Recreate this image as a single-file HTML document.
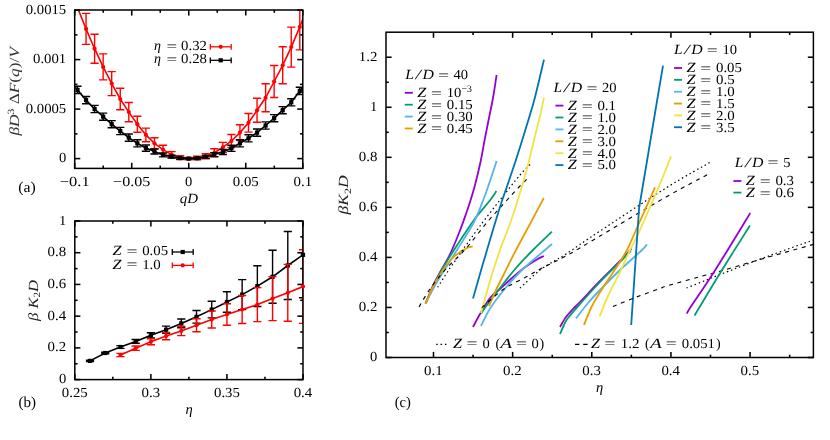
<!DOCTYPE html>
<html><head><meta charset="utf-8"><title>figure</title>
<style>html,body{margin:0;padding:0;background:#fff;}body{width:830px;height:440px;overflow:hidden;font-family:"Liberation Serif",serif;}svg text{font-family:"Liberation Serif",serif;}</style></head>
<body>
<svg width="830" height="440" viewBox="0 0 830 440" font-family="'Liberation Serif', serif" text-rendering="geometricPrecision" style="display:block;will-change:transform;opacity:0.999">
<rect x="0" y="0" width="830" height="440" fill="#ffffff"/>
<clipPath id="ca"><rect x="74.7" y="10.0" width="228.1" height="158.4"/></clipPath>
<line x1="74.7" y1="168.4" x2="74.7" y2="162.8" stroke="#000000" stroke-width="1.55" />
<line x1="74.7" y1="10" x2="74.7" y2="15.6" stroke="#000000" stroke-width="1.55" />
<line x1="103.21" y1="168.4" x2="103.21" y2="165.6" stroke="#000000" stroke-width="1.55" />
<line x1="103.21" y1="10" x2="103.21" y2="12.8" stroke="#000000" stroke-width="1.55" />
<line x1="131.73" y1="168.4" x2="131.73" y2="162.8" stroke="#000000" stroke-width="1.55" />
<line x1="131.73" y1="10" x2="131.73" y2="15.6" stroke="#000000" stroke-width="1.55" />
<line x1="160.24" y1="168.4" x2="160.24" y2="165.6" stroke="#000000" stroke-width="1.55" />
<line x1="160.24" y1="10" x2="160.24" y2="12.8" stroke="#000000" stroke-width="1.55" />
<line x1="188.75" y1="168.4" x2="188.75" y2="162.8" stroke="#000000" stroke-width="1.55" />
<line x1="188.75" y1="10" x2="188.75" y2="15.6" stroke="#000000" stroke-width="1.55" />
<line x1="217.26" y1="168.4" x2="217.26" y2="165.6" stroke="#000000" stroke-width="1.55" />
<line x1="217.26" y1="10" x2="217.26" y2="12.8" stroke="#000000" stroke-width="1.55" />
<line x1="245.78" y1="168.4" x2="245.78" y2="162.8" stroke="#000000" stroke-width="1.55" />
<line x1="245.78" y1="10" x2="245.78" y2="15.6" stroke="#000000" stroke-width="1.55" />
<line x1="274.29" y1="168.4" x2="274.29" y2="165.6" stroke="#000000" stroke-width="1.55" />
<line x1="274.29" y1="10" x2="274.29" y2="12.8" stroke="#000000" stroke-width="1.55" />
<line x1="302.8" y1="168.4" x2="302.8" y2="162.8" stroke="#000000" stroke-width="1.55" />
<line x1="302.8" y1="10" x2="302.8" y2="15.6" stroke="#000000" stroke-width="1.55" />
<line x1="74.7" y1="158.6" x2="80.3" y2="158.6" stroke="#000000" stroke-width="1.55" />
<line x1="302.8" y1="158.6" x2="297.2" y2="158.6" stroke="#000000" stroke-width="1.55" />
<line x1="74.7" y1="133.85" x2="77.5" y2="133.85" stroke="#000000" stroke-width="1.55" />
<line x1="302.8" y1="133.85" x2="300" y2="133.85" stroke="#000000" stroke-width="1.55" />
<line x1="74.7" y1="109.1" x2="80.3" y2="109.1" stroke="#000000" stroke-width="1.55" />
<line x1="302.8" y1="109.1" x2="297.2" y2="109.1" stroke="#000000" stroke-width="1.55" />
<line x1="74.7" y1="84.35" x2="77.5" y2="84.35" stroke="#000000" stroke-width="1.55" />
<line x1="302.8" y1="84.35" x2="300" y2="84.35" stroke="#000000" stroke-width="1.55" />
<line x1="74.7" y1="59.6" x2="80.3" y2="59.6" stroke="#000000" stroke-width="1.55" />
<line x1="302.8" y1="59.6" x2="297.2" y2="59.6" stroke="#000000" stroke-width="1.55" />
<line x1="74.7" y1="34.85" x2="77.5" y2="34.85" stroke="#000000" stroke-width="1.55" />
<line x1="302.8" y1="34.85" x2="300" y2="34.85" stroke="#000000" stroke-width="1.55" />
<line x1="74.7" y1="10.1" x2="80.3" y2="10.1" stroke="#000000" stroke-width="1.55" />
<line x1="302.8" y1="10.1" x2="297.2" y2="10.1" stroke="#000000" stroke-width="1.55" />
<g clip-path="url(#ca)">
<polyline points="68.95,-12.4 77.5,7.6 86.05,28.9 94.6,48.7 103.15,66.9 111.7,83.6 120.25,99 128.8,112.1 137.35,124.2 145.9,134.9 154.45,143.3 163,149.6 171.55,154.6 180.1,157.6 188.65,158.6 197.2,158.1 205.75,156.2 214.3,152.8 222.85,147.4 231.4,141 239.95,132.6 248.5,122.8 257.05,110.3 265.6,97.8 274.15,81.5 282.7,65.3 291.25,47.1 299.8,26.9 308.35,5.6" fill="none" stroke="#ff0000" stroke-width="1.6"/>
<line x1="86.05" y1="13.4" x2="86.05" y2="44.4" stroke="#ff0000" stroke-width="1.4" />
<line x1="81.95" y1="13.4" x2="90.15" y2="13.4" stroke="#ff0000" stroke-width="1.4" />
<line x1="81.95" y1="44.4" x2="90.15" y2="44.4" stroke="#ff0000" stroke-width="1.4" />
<circle cx="86.05" cy="28.9" r="2.1" fill="#ff0000"/>
<line x1="94.6" y1="34.2" x2="94.6" y2="63.2" stroke="#ff0000" stroke-width="1.4" />
<line x1="90.5" y1="34.2" x2="98.7" y2="34.2" stroke="#ff0000" stroke-width="1.4" />
<line x1="90.5" y1="63.2" x2="98.7" y2="63.2" stroke="#ff0000" stroke-width="1.4" />
<circle cx="94.6" cy="48.7" r="2.1" fill="#ff0000"/>
<line x1="103.15" y1="53.9" x2="103.15" y2="79.9" stroke="#ff0000" stroke-width="1.4" />
<line x1="99.05" y1="53.9" x2="107.25" y2="53.9" stroke="#ff0000" stroke-width="1.4" />
<line x1="99.05" y1="79.9" x2="107.25" y2="79.9" stroke="#ff0000" stroke-width="1.4" />
<circle cx="103.15" cy="66.9" r="2.1" fill="#ff0000"/>
<line x1="111.7" y1="71.6" x2="111.7" y2="95.6" stroke="#ff0000" stroke-width="1.4" />
<line x1="107.6" y1="71.6" x2="115.8" y2="71.6" stroke="#ff0000" stroke-width="1.4" />
<line x1="107.6" y1="95.6" x2="115.8" y2="95.6" stroke="#ff0000" stroke-width="1.4" />
<circle cx="111.7" cy="83.6" r="2.1" fill="#ff0000"/>
<line x1="120.25" y1="88.2" x2="120.25" y2="109.8" stroke="#ff0000" stroke-width="1.4" />
<line x1="116.15" y1="88.2" x2="124.35" y2="88.2" stroke="#ff0000" stroke-width="1.4" />
<line x1="116.15" y1="109.8" x2="124.35" y2="109.8" stroke="#ff0000" stroke-width="1.4" />
<circle cx="120.25" cy="99" r="2.1" fill="#ff0000"/>
<line x1="128.8" y1="102.5" x2="128.8" y2="121.7" stroke="#ff0000" stroke-width="1.4" />
<line x1="124.7" y1="102.5" x2="132.9" y2="102.5" stroke="#ff0000" stroke-width="1.4" />
<line x1="124.7" y1="121.7" x2="132.9" y2="121.7" stroke="#ff0000" stroke-width="1.4" />
<circle cx="128.8" cy="112.1" r="2.1" fill="#ff0000"/>
<line x1="137.35" y1="116.2" x2="137.35" y2="132.2" stroke="#ff0000" stroke-width="1.4" />
<line x1="133.25" y1="116.2" x2="141.45" y2="116.2" stroke="#ff0000" stroke-width="1.4" />
<line x1="133.25" y1="132.2" x2="141.45" y2="132.2" stroke="#ff0000" stroke-width="1.4" />
<circle cx="137.35" cy="124.2" r="2.1" fill="#ff0000"/>
<line x1="145.9" y1="128.1" x2="145.9" y2="141.7" stroke="#ff0000" stroke-width="1.4" />
<line x1="141.8" y1="128.1" x2="150" y2="128.1" stroke="#ff0000" stroke-width="1.4" />
<line x1="141.8" y1="141.7" x2="150" y2="141.7" stroke="#ff0000" stroke-width="1.4" />
<circle cx="145.9" cy="134.9" r="2.1" fill="#ff0000"/>
<line x1="154.45" y1="137.8" x2="154.45" y2="148.8" stroke="#ff0000" stroke-width="1.4" />
<line x1="150.35" y1="137.8" x2="158.55" y2="137.8" stroke="#ff0000" stroke-width="1.4" />
<line x1="150.35" y1="148.8" x2="158.55" y2="148.8" stroke="#ff0000" stroke-width="1.4" />
<circle cx="154.45" cy="143.3" r="2.1" fill="#ff0000"/>
<line x1="163" y1="145.3" x2="163" y2="153.9" stroke="#ff0000" stroke-width="1.4" />
<line x1="158.9" y1="145.3" x2="167.1" y2="145.3" stroke="#ff0000" stroke-width="1.4" />
<line x1="158.9" y1="153.9" x2="167.1" y2="153.9" stroke="#ff0000" stroke-width="1.4" />
<circle cx="163" cy="149.6" r="2.1" fill="#ff0000"/>
<line x1="171.55" y1="151.6" x2="171.55" y2="157.6" stroke="#ff0000" stroke-width="1.4" />
<line x1="167.45" y1="151.6" x2="175.65" y2="151.6" stroke="#ff0000" stroke-width="1.4" />
<line x1="167.45" y1="157.6" x2="175.65" y2="157.6" stroke="#ff0000" stroke-width="1.4" />
<circle cx="171.55" cy="154.6" r="2.1" fill="#ff0000"/>
<line x1="180.1" y1="155.6" x2="180.1" y2="159.6" stroke="#ff0000" stroke-width="1.4" />
<line x1="176" y1="155.6" x2="184.2" y2="155.6" stroke="#ff0000" stroke-width="1.4" />
<line x1="176" y1="159.6" x2="184.2" y2="159.6" stroke="#ff0000" stroke-width="1.4" />
<circle cx="180.1" cy="157.6" r="2.1" fill="#ff0000"/>
<line x1="188.65" y1="157.4" x2="188.65" y2="159.8" stroke="#ff0000" stroke-width="1.4" />
<line x1="184.55" y1="157.4" x2="192.75" y2="157.4" stroke="#ff0000" stroke-width="1.4" />
<line x1="184.55" y1="159.8" x2="192.75" y2="159.8" stroke="#ff0000" stroke-width="1.4" />
<circle cx="188.65" cy="158.6" r="2.1" fill="#ff0000"/>
<line x1="197.2" y1="156.3" x2="197.2" y2="159.9" stroke="#ff0000" stroke-width="1.4" />
<line x1="193.1" y1="156.3" x2="201.3" y2="156.3" stroke="#ff0000" stroke-width="1.4" />
<line x1="193.1" y1="159.9" x2="201.3" y2="159.9" stroke="#ff0000" stroke-width="1.4" />
<circle cx="197.2" cy="158.1" r="2.1" fill="#ff0000"/>
<line x1="205.75" y1="153.7" x2="205.75" y2="158.7" stroke="#ff0000" stroke-width="1.4" />
<line x1="201.65" y1="153.7" x2="209.85" y2="153.7" stroke="#ff0000" stroke-width="1.4" />
<line x1="201.65" y1="158.7" x2="209.85" y2="158.7" stroke="#ff0000" stroke-width="1.4" />
<circle cx="205.75" cy="156.2" r="2.1" fill="#ff0000"/>
<line x1="214.3" y1="148.8" x2="214.3" y2="156.8" stroke="#ff0000" stroke-width="1.4" />
<line x1="210.2" y1="148.8" x2="218.4" y2="148.8" stroke="#ff0000" stroke-width="1.4" />
<line x1="210.2" y1="156.8" x2="218.4" y2="156.8" stroke="#ff0000" stroke-width="1.4" />
<circle cx="214.3" cy="152.8" r="2.1" fill="#ff0000"/>
<line x1="222.85" y1="142.4" x2="222.85" y2="152.4" stroke="#ff0000" stroke-width="1.4" />
<line x1="218.75" y1="142.4" x2="226.95" y2="142.4" stroke="#ff0000" stroke-width="1.4" />
<line x1="218.75" y1="152.4" x2="226.95" y2="152.4" stroke="#ff0000" stroke-width="1.4" />
<circle cx="222.85" cy="147.4" r="2.1" fill="#ff0000"/>
<line x1="231.4" y1="134.5" x2="231.4" y2="147.5" stroke="#ff0000" stroke-width="1.4" />
<line x1="227.3" y1="134.5" x2="235.5" y2="134.5" stroke="#ff0000" stroke-width="1.4" />
<line x1="227.3" y1="147.5" x2="235.5" y2="147.5" stroke="#ff0000" stroke-width="1.4" />
<circle cx="231.4" cy="141" r="2.1" fill="#ff0000"/>
<line x1="239.95" y1="124.8" x2="239.95" y2="140.4" stroke="#ff0000" stroke-width="1.4" />
<line x1="235.85" y1="124.8" x2="244.05" y2="124.8" stroke="#ff0000" stroke-width="1.4" />
<line x1="235.85" y1="140.4" x2="244.05" y2="140.4" stroke="#ff0000" stroke-width="1.4" />
<circle cx="239.95" cy="132.6" r="2.1" fill="#ff0000"/>
<line x1="248.5" y1="113.5" x2="248.5" y2="132.1" stroke="#ff0000" stroke-width="1.4" />
<line x1="244.4" y1="113.5" x2="252.6" y2="113.5" stroke="#ff0000" stroke-width="1.4" />
<line x1="244.4" y1="132.1" x2="252.6" y2="132.1" stroke="#ff0000" stroke-width="1.4" />
<circle cx="248.5" cy="122.8" r="2.1" fill="#ff0000"/>
<line x1="257.05" y1="98.3" x2="257.05" y2="122.3" stroke="#ff0000" stroke-width="1.4" />
<line x1="252.95" y1="98.3" x2="261.15" y2="98.3" stroke="#ff0000" stroke-width="1.4" />
<line x1="252.95" y1="122.3" x2="261.15" y2="122.3" stroke="#ff0000" stroke-width="1.4" />
<circle cx="257.05" cy="110.3" r="2.1" fill="#ff0000"/>
<line x1="265.6" y1="83.8" x2="265.6" y2="111.8" stroke="#ff0000" stroke-width="1.4" />
<line x1="261.5" y1="83.8" x2="269.7" y2="83.8" stroke="#ff0000" stroke-width="1.4" />
<line x1="261.5" y1="111.8" x2="269.7" y2="111.8" stroke="#ff0000" stroke-width="1.4" />
<circle cx="265.6" cy="97.8" r="2.1" fill="#ff0000"/>
<line x1="274.15" y1="65.5" x2="274.15" y2="97.5" stroke="#ff0000" stroke-width="1.4" />
<line x1="270.05" y1="65.5" x2="278.25" y2="65.5" stroke="#ff0000" stroke-width="1.4" />
<line x1="270.05" y1="97.5" x2="278.25" y2="97.5" stroke="#ff0000" stroke-width="1.4" />
<circle cx="274.15" cy="81.5" r="2.1" fill="#ff0000"/>
<line x1="282.7" y1="46.8" x2="282.7" y2="83.8" stroke="#ff0000" stroke-width="1.4" />
<line x1="278.6" y1="46.8" x2="286.8" y2="46.8" stroke="#ff0000" stroke-width="1.4" />
<line x1="278.6" y1="83.8" x2="286.8" y2="83.8" stroke="#ff0000" stroke-width="1.4" />
<circle cx="282.7" cy="65.3" r="2.1" fill="#ff0000"/>
<line x1="291.25" y1="27.1" x2="291.25" y2="67.1" stroke="#ff0000" stroke-width="1.4" />
<line x1="287.15" y1="27.1" x2="295.35" y2="27.1" stroke="#ff0000" stroke-width="1.4" />
<line x1="287.15" y1="67.1" x2="295.35" y2="67.1" stroke="#ff0000" stroke-width="1.4" />
<circle cx="291.25" cy="47.1" r="2.1" fill="#ff0000"/>
<line x1="299.8" y1="10" x2="299.8" y2="49.9" stroke="#ff0000" stroke-width="1.4" />
<line x1="295.7" y1="49.9" x2="303.9" y2="49.9" stroke="#ff0000" stroke-width="1.4" />
<circle cx="299.8" cy="26.9" r="2.1" fill="#ff0000"/>
<polyline points="68.95,79.6 77.5,89.9 86.05,100.1 94.6,109 103.15,116.7 111.7,124.2 120.25,131 128.8,137.6 137.35,143.3 145.9,148.1 154.45,151.5 163,154.9 171.55,156.7 180.1,158.1 188.65,158.6 197.2,158.2 205.75,156.9 214.3,154.6 222.85,151.9 231.4,148.3 239.95,143.3 248.5,138.3 257.05,132.6 265.6,125.5 274.15,118.2 282.7,110.2 291.25,102.3 299.8,90.9 308.35,80.6" fill="none" stroke="#000000" stroke-width="1.6"/>
<line x1="77.5" y1="86.3" x2="77.5" y2="93.5" stroke="#000000" stroke-width="1.4" />
<line x1="73.4" y1="86.3" x2="81.6" y2="86.3" stroke="#000000" stroke-width="1.4" />
<line x1="73.4" y1="93.5" x2="81.6" y2="93.5" stroke="#000000" stroke-width="1.4" />
<rect x="75.4" y="87.8" width="4.2" height="4.2" fill="#000000"/>
<line x1="86.05" y1="96.5" x2="86.05" y2="103.7" stroke="#000000" stroke-width="1.4" />
<line x1="81.95" y1="96.5" x2="90.15" y2="96.5" stroke="#000000" stroke-width="1.4" />
<line x1="81.95" y1="103.7" x2="90.15" y2="103.7" stroke="#000000" stroke-width="1.4" />
<rect x="83.95" y="98" width="4.2" height="4.2" fill="#000000"/>
<line x1="94.6" y1="105.4" x2="94.6" y2="112.6" stroke="#000000" stroke-width="1.4" />
<line x1="90.5" y1="105.4" x2="98.7" y2="105.4" stroke="#000000" stroke-width="1.4" />
<line x1="90.5" y1="112.6" x2="98.7" y2="112.6" stroke="#000000" stroke-width="1.4" />
<rect x="92.5" y="106.9" width="4.2" height="4.2" fill="#000000"/>
<line x1="103.15" y1="113.1" x2="103.15" y2="120.3" stroke="#000000" stroke-width="1.4" />
<line x1="99.05" y1="113.1" x2="107.25" y2="113.1" stroke="#000000" stroke-width="1.4" />
<line x1="99.05" y1="120.3" x2="107.25" y2="120.3" stroke="#000000" stroke-width="1.4" />
<rect x="101.05" y="114.6" width="4.2" height="4.2" fill="#000000"/>
<line x1="111.7" y1="120.6" x2="111.7" y2="127.8" stroke="#000000" stroke-width="1.4" />
<line x1="107.6" y1="120.6" x2="115.8" y2="120.6" stroke="#000000" stroke-width="1.4" />
<line x1="107.6" y1="127.8" x2="115.8" y2="127.8" stroke="#000000" stroke-width="1.4" />
<rect x="109.6" y="122.1" width="4.2" height="4.2" fill="#000000"/>
<line x1="120.25" y1="127.4" x2="120.25" y2="134.6" stroke="#000000" stroke-width="1.4" />
<line x1="116.15" y1="127.4" x2="124.35" y2="127.4" stroke="#000000" stroke-width="1.4" />
<line x1="116.15" y1="134.6" x2="124.35" y2="134.6" stroke="#000000" stroke-width="1.4" />
<rect x="118.15" y="128.9" width="4.2" height="4.2" fill="#000000"/>
<line x1="128.8" y1="134" x2="128.8" y2="141.2" stroke="#000000" stroke-width="1.4" />
<line x1="124.7" y1="134" x2="132.9" y2="134" stroke="#000000" stroke-width="1.4" />
<line x1="124.7" y1="141.2" x2="132.9" y2="141.2" stroke="#000000" stroke-width="1.4" />
<rect x="126.7" y="135.5" width="4.2" height="4.2" fill="#000000"/>
<line x1="137.35" y1="139.7" x2="137.35" y2="146.9" stroke="#000000" stroke-width="1.4" />
<line x1="133.25" y1="139.7" x2="141.45" y2="139.7" stroke="#000000" stroke-width="1.4" />
<line x1="133.25" y1="146.9" x2="141.45" y2="146.9" stroke="#000000" stroke-width="1.4" />
<rect x="135.25" y="141.2" width="4.2" height="4.2" fill="#000000"/>
<line x1="145.9" y1="145" x2="145.9" y2="151.2" stroke="#000000" stroke-width="1.4" />
<line x1="141.8" y1="145" x2="150" y2="145" stroke="#000000" stroke-width="1.4" />
<line x1="141.8" y1="151.2" x2="150" y2="151.2" stroke="#000000" stroke-width="1.4" />
<rect x="143.8" y="146" width="4.2" height="4.2" fill="#000000"/>
<line x1="154.45" y1="148.96" x2="154.45" y2="154.04" stroke="#000000" stroke-width="1.4" />
<line x1="150.35" y1="148.96" x2="158.55" y2="148.96" stroke="#000000" stroke-width="1.4" />
<line x1="150.35" y1="154.04" x2="158.55" y2="154.04" stroke="#000000" stroke-width="1.4" />
<rect x="152.35" y="149.4" width="4.2" height="4.2" fill="#000000"/>
<line x1="163" y1="152.92" x2="163" y2="156.88" stroke="#000000" stroke-width="1.4" />
<line x1="158.9" y1="152.92" x2="167.1" y2="152.92" stroke="#000000" stroke-width="1.4" />
<line x1="158.9" y1="156.88" x2="167.1" y2="156.88" stroke="#000000" stroke-width="1.4" />
<rect x="160.9" y="152.8" width="4.2" height="4.2" fill="#000000"/>
<line x1="171.55" y1="155.28" x2="171.55" y2="158.12" stroke="#000000" stroke-width="1.4" />
<line x1="167.45" y1="155.28" x2="175.65" y2="155.28" stroke="#000000" stroke-width="1.4" />
<line x1="167.45" y1="158.12" x2="175.65" y2="158.12" stroke="#000000" stroke-width="1.4" />
<rect x="169.45" y="154.6" width="4.2" height="4.2" fill="#000000"/>
<line x1="180.1" y1="157.24" x2="180.1" y2="158.96" stroke="#000000" stroke-width="1.4" />
<line x1="176" y1="157.24" x2="184.2" y2="157.24" stroke="#000000" stroke-width="1.4" />
<line x1="176" y1="158.96" x2="184.2" y2="158.96" stroke="#000000" stroke-width="1.4" />
<rect x="178" y="156" width="4.2" height="4.2" fill="#000000"/>
<line x1="188.65" y1="158.3" x2="188.65" y2="158.9" stroke="#000000" stroke-width="1.4" />
<line x1="184.55" y1="158.3" x2="192.75" y2="158.3" stroke="#000000" stroke-width="1.4" />
<line x1="184.55" y1="158.9" x2="192.75" y2="158.9" stroke="#000000" stroke-width="1.4" />
<rect x="186.55" y="156.5" width="4.2" height="4.2" fill="#000000"/>
<line x1="197.2" y1="157.34" x2="197.2" y2="159.06" stroke="#000000" stroke-width="1.4" />
<line x1="193.1" y1="157.34" x2="201.3" y2="157.34" stroke="#000000" stroke-width="1.4" />
<line x1="193.1" y1="159.06" x2="201.3" y2="159.06" stroke="#000000" stroke-width="1.4" />
<rect x="195.1" y="156.1" width="4.2" height="4.2" fill="#000000"/>
<line x1="205.75" y1="155.48" x2="205.75" y2="158.32" stroke="#000000" stroke-width="1.4" />
<line x1="201.65" y1="155.48" x2="209.85" y2="155.48" stroke="#000000" stroke-width="1.4" />
<line x1="201.65" y1="158.32" x2="209.85" y2="158.32" stroke="#000000" stroke-width="1.4" />
<rect x="203.65" y="154.8" width="4.2" height="4.2" fill="#000000"/>
<line x1="214.3" y1="152.62" x2="214.3" y2="156.58" stroke="#000000" stroke-width="1.4" />
<line x1="210.2" y1="152.62" x2="218.4" y2="152.62" stroke="#000000" stroke-width="1.4" />
<line x1="210.2" y1="156.58" x2="218.4" y2="156.58" stroke="#000000" stroke-width="1.4" />
<rect x="212.2" y="152.5" width="4.2" height="4.2" fill="#000000"/>
<line x1="222.85" y1="149.36" x2="222.85" y2="154.44" stroke="#000000" stroke-width="1.4" />
<line x1="218.75" y1="149.36" x2="226.95" y2="149.36" stroke="#000000" stroke-width="1.4" />
<line x1="218.75" y1="154.44" x2="226.95" y2="154.44" stroke="#000000" stroke-width="1.4" />
<rect x="220.75" y="149.8" width="4.2" height="4.2" fill="#000000"/>
<line x1="231.4" y1="145.2" x2="231.4" y2="151.4" stroke="#000000" stroke-width="1.4" />
<line x1="227.3" y1="145.2" x2="235.5" y2="145.2" stroke="#000000" stroke-width="1.4" />
<line x1="227.3" y1="151.4" x2="235.5" y2="151.4" stroke="#000000" stroke-width="1.4" />
<rect x="229.3" y="146.2" width="4.2" height="4.2" fill="#000000"/>
<line x1="239.95" y1="139.7" x2="239.95" y2="146.9" stroke="#000000" stroke-width="1.4" />
<line x1="235.85" y1="139.7" x2="244.05" y2="139.7" stroke="#000000" stroke-width="1.4" />
<line x1="235.85" y1="146.9" x2="244.05" y2="146.9" stroke="#000000" stroke-width="1.4" />
<rect x="237.85" y="141.2" width="4.2" height="4.2" fill="#000000"/>
<line x1="248.5" y1="134.7" x2="248.5" y2="141.9" stroke="#000000" stroke-width="1.4" />
<line x1="244.4" y1="134.7" x2="252.6" y2="134.7" stroke="#000000" stroke-width="1.4" />
<line x1="244.4" y1="141.9" x2="252.6" y2="141.9" stroke="#000000" stroke-width="1.4" />
<rect x="246.4" y="136.2" width="4.2" height="4.2" fill="#000000"/>
<line x1="257.05" y1="129" x2="257.05" y2="136.2" stroke="#000000" stroke-width="1.4" />
<line x1="252.95" y1="129" x2="261.15" y2="129" stroke="#000000" stroke-width="1.4" />
<line x1="252.95" y1="136.2" x2="261.15" y2="136.2" stroke="#000000" stroke-width="1.4" />
<rect x="254.95" y="130.5" width="4.2" height="4.2" fill="#000000"/>
<line x1="265.6" y1="121.9" x2="265.6" y2="129.1" stroke="#000000" stroke-width="1.4" />
<line x1="261.5" y1="121.9" x2="269.7" y2="121.9" stroke="#000000" stroke-width="1.4" />
<line x1="261.5" y1="129.1" x2="269.7" y2="129.1" stroke="#000000" stroke-width="1.4" />
<rect x="263.5" y="123.4" width="4.2" height="4.2" fill="#000000"/>
<line x1="274.15" y1="114.6" x2="274.15" y2="121.8" stroke="#000000" stroke-width="1.4" />
<line x1="270.05" y1="114.6" x2="278.25" y2="114.6" stroke="#000000" stroke-width="1.4" />
<line x1="270.05" y1="121.8" x2="278.25" y2="121.8" stroke="#000000" stroke-width="1.4" />
<rect x="272.05" y="116.1" width="4.2" height="4.2" fill="#000000"/>
<line x1="282.7" y1="106.6" x2="282.7" y2="113.8" stroke="#000000" stroke-width="1.4" />
<line x1="278.6" y1="106.6" x2="286.8" y2="106.6" stroke="#000000" stroke-width="1.4" />
<line x1="278.6" y1="113.8" x2="286.8" y2="113.8" stroke="#000000" stroke-width="1.4" />
<rect x="280.6" y="108.1" width="4.2" height="4.2" fill="#000000"/>
<line x1="291.25" y1="98.7" x2="291.25" y2="105.9" stroke="#000000" stroke-width="1.4" />
<line x1="287.15" y1="98.7" x2="295.35" y2="98.7" stroke="#000000" stroke-width="1.4" />
<line x1="287.15" y1="105.9" x2="295.35" y2="105.9" stroke="#000000" stroke-width="1.4" />
<rect x="289.15" y="100.2" width="4.2" height="4.2" fill="#000000"/>
<line x1="299.8" y1="87.3" x2="299.8" y2="94.5" stroke="#000000" stroke-width="1.4" />
<line x1="295.7" y1="87.3" x2="303.9" y2="87.3" stroke="#000000" stroke-width="1.4" />
<line x1="295.7" y1="94.5" x2="303.9" y2="94.5" stroke="#000000" stroke-width="1.4" />
<rect x="297.7" y="88.8" width="4.2" height="4.2" fill="#000000"/>
</g>
<rect x="74.7" y="10" width="228.1" height="158.4" fill="none" stroke="#000" stroke-width="1.5"/>
<line x1="210.3" y1="46.8" x2="231.2" y2="46.8" stroke="#ff0000" stroke-width="1.3" />
<line x1="210.3" y1="43.9" x2="210.3" y2="49.7" stroke="#ff0000" stroke-width="1.3" />
<line x1="231.2" y1="43.9" x2="231.2" y2="49.7" stroke="#ff0000" stroke-width="1.3" />
<circle cx="220.7" cy="46.8" r="2.1" fill="#ff0000"/>
<line x1="210.3" y1="60.3" x2="231.2" y2="60.3" stroke="#000000" stroke-width="1.3" />
<line x1="210.3" y1="57.4" x2="210.3" y2="63.2" stroke="#000000" stroke-width="1.3" />
<line x1="231.2" y1="57.4" x2="231.2" y2="63.2" stroke="#000000" stroke-width="1.3" />
<rect x="218.6" y="58.2" width="4.2" height="4.2" fill="#000000"/>
<text x="154" y="50" text-anchor="start" font-size="14.0" font-style="italic" fill="#000000" >η</text>
<text x="166.6" y="50.6" text-anchor="start" font-size="14.0" textLength="10.6" lengthAdjust="spacingAndGlyphs" fill="#000000" >=</text>
<text x="181.13" y="50" text-anchor="start" font-size="13.8" textLength="25.87" lengthAdjust="spacingAndGlyphs" fill="#000000" >0.32</text>
<text x="154" y="63.3" text-anchor="start" font-size="14.0" font-style="italic" fill="#000000" >η</text>
<text x="166.6" y="63.9" text-anchor="start" font-size="14.0" textLength="10.6" lengthAdjust="spacingAndGlyphs" fill="#000000" >=</text>
<text x="181.13" y="63.3" text-anchor="start" font-size="13.8" textLength="25.87" lengthAdjust="spacingAndGlyphs" fill="#000000" >0.28</text>
<text x="25.78" y="13.7" text-anchor="start" font-size="13.8" textLength="40.42" lengthAdjust="spacingAndGlyphs" fill="#000000" >0.0015</text>
<text x="33.06" y="63.2" text-anchor="start" font-size="13.8" textLength="33.14" lengthAdjust="spacingAndGlyphs" fill="#000000" >0.001</text>
<text x="25.78" y="112.7" text-anchor="start" font-size="13.8" textLength="40.42" lengthAdjust="spacingAndGlyphs" fill="#000000" >0.0005</text>
<text x="58.93" y="162.2" text-anchor="start" font-size="13.8" textLength="7.28" lengthAdjust="spacingAndGlyphs" fill="#000000" >0</text>
<text x="59.74" y="185.9" text-anchor="start" font-size="13.8" textLength="29.91" lengthAdjust="spacingAndGlyphs" fill="#000000" >−0.1</text>
<text x="113.13" y="185.9" text-anchor="start" font-size="13.8" textLength="37.19" lengthAdjust="spacingAndGlyphs" fill="#000000" >−0.05</text>
<text x="185.11" y="185.9" text-anchor="start" font-size="13.8" textLength="7.28" lengthAdjust="spacingAndGlyphs" fill="#000000" >0</text>
<text x="232.84" y="185.9" text-anchor="start" font-size="13.8" textLength="25.87" lengthAdjust="spacingAndGlyphs" fill="#000000" >0.05</text>
<text x="293.5" y="185.9" text-anchor="start" font-size="13.8" textLength="18.59" lengthAdjust="spacingAndGlyphs" fill="#000000" >0.1</text>
<text x="179.7" y="202.5" text-anchor="start" font-size="14.0" font-style="italic" textLength="18.2" lengthAdjust="spacingAndGlyphs" fill="#000000" >qD</text>
<text x="18.3" y="191.7" text-anchor="start" font-size="15" textLength="17.4" lengthAdjust="spacingAndGlyphs" fill="#000000" >(a)</text>
<text transform="translate(18.6,135.6) rotate(-90)" font-size="14.0" fill="#333" textLength="88.5" lengthAdjust="spacingAndGlyphs"><tspan font-style="italic">βD</tspan><tspan font-size="9.5" dy="-4.6">3</tspan><tspan dy="4.6"> Δ</tspan><tspan font-style="italic">F</tspan>(<tspan font-style="italic">q</tspan>)/<tspan font-style="italic">V</tspan></text>
<clipPath id="cb"><rect x="74.8" y="221.0" width="228.2" height="158.6"/></clipPath>
<line x1="74.8" y1="379.6" x2="74.8" y2="374" stroke="#000000" stroke-width="1.55" />
<line x1="74.8" y1="221" x2="74.8" y2="226.6" stroke="#000000" stroke-width="1.55" />
<line x1="112.83" y1="379.6" x2="112.83" y2="376.8" stroke="#000000" stroke-width="1.55" />
<line x1="112.83" y1="221" x2="112.83" y2="223.8" stroke="#000000" stroke-width="1.55" />
<line x1="150.87" y1="379.6" x2="150.87" y2="374" stroke="#000000" stroke-width="1.55" />
<line x1="150.87" y1="221" x2="150.87" y2="226.6" stroke="#000000" stroke-width="1.55" />
<line x1="188.9" y1="379.6" x2="188.9" y2="376.8" stroke="#000000" stroke-width="1.55" />
<line x1="188.9" y1="221" x2="188.9" y2="223.8" stroke="#000000" stroke-width="1.55" />
<line x1="226.93" y1="379.6" x2="226.93" y2="374" stroke="#000000" stroke-width="1.55" />
<line x1="226.93" y1="221" x2="226.93" y2="226.6" stroke="#000000" stroke-width="1.55" />
<line x1="264.97" y1="379.6" x2="264.97" y2="376.8" stroke="#000000" stroke-width="1.55" />
<line x1="264.97" y1="221" x2="264.97" y2="223.8" stroke="#000000" stroke-width="1.55" />
<line x1="303" y1="379.6" x2="303" y2="374" stroke="#000000" stroke-width="1.55" />
<line x1="303" y1="221" x2="303" y2="226.6" stroke="#000000" stroke-width="1.55" />
<line x1="74.8" y1="379.6" x2="80.4" y2="379.6" stroke="#000000" stroke-width="1.55" />
<line x1="303" y1="379.6" x2="297.4" y2="379.6" stroke="#000000" stroke-width="1.55" />
<line x1="74.8" y1="363.74" x2="77.6" y2="363.74" stroke="#000000" stroke-width="1.55" />
<line x1="303" y1="363.74" x2="300.2" y2="363.74" stroke="#000000" stroke-width="1.55" />
<line x1="74.8" y1="347.88" x2="80.4" y2="347.88" stroke="#000000" stroke-width="1.55" />
<line x1="303" y1="347.88" x2="297.4" y2="347.88" stroke="#000000" stroke-width="1.55" />
<line x1="74.8" y1="332.02" x2="77.6" y2="332.02" stroke="#000000" stroke-width="1.55" />
<line x1="303" y1="332.02" x2="300.2" y2="332.02" stroke="#000000" stroke-width="1.55" />
<line x1="74.8" y1="316.16" x2="80.4" y2="316.16" stroke="#000000" stroke-width="1.55" />
<line x1="303" y1="316.16" x2="297.4" y2="316.16" stroke="#000000" stroke-width="1.55" />
<line x1="74.8" y1="300.3" x2="77.6" y2="300.3" stroke="#000000" stroke-width="1.55" />
<line x1="303" y1="300.3" x2="300.2" y2="300.3" stroke="#000000" stroke-width="1.55" />
<line x1="74.8" y1="284.44" x2="80.4" y2="284.44" stroke="#000000" stroke-width="1.55" />
<line x1="303" y1="284.44" x2="297.4" y2="284.44" stroke="#000000" stroke-width="1.55" />
<line x1="74.8" y1="268.58" x2="77.6" y2="268.58" stroke="#000000" stroke-width="1.55" />
<line x1="303" y1="268.58" x2="300.2" y2="268.58" stroke="#000000" stroke-width="1.55" />
<line x1="74.8" y1="252.72" x2="80.4" y2="252.72" stroke="#000000" stroke-width="1.55" />
<line x1="303" y1="252.72" x2="297.4" y2="252.72" stroke="#000000" stroke-width="1.55" />
<line x1="74.8" y1="236.86" x2="77.6" y2="236.86" stroke="#000000" stroke-width="1.55" />
<line x1="303" y1="236.86" x2="300.2" y2="236.86" stroke="#000000" stroke-width="1.55" />
<line x1="74.8" y1="221" x2="80.4" y2="221" stroke="#000000" stroke-width="1.55" />
<line x1="303" y1="221" x2="297.4" y2="221" stroke="#000000" stroke-width="1.55" />
<g clip-path="url(#cb)">
<polyline points="90.01,360.9 105.23,353 120.44,347 135.65,341.4 150.87,335.3 166.08,329.7 181.29,323.4 196.51,316.8 211.72,309.6 226.93,302 242.15,294.6 257.36,286.1 272.57,276.8 287.79,265.5 303,254.8" fill="none" stroke="#000000" stroke-width="1.6"/>
<line x1="90.01" y1="360.3" x2="90.01" y2="361.5" stroke="#000000" stroke-width="1.4" />
<line x1="85.91" y1="360.3" x2="94.11" y2="360.3" stroke="#000000" stroke-width="1.4" />
<line x1="85.91" y1="361.5" x2="94.11" y2="361.5" stroke="#000000" stroke-width="1.4" />
<rect x="87.91" y="358.8" width="4.2" height="4.2" fill="#000000"/>
<line x1="105.23" y1="352.2" x2="105.23" y2="353.8" stroke="#000000" stroke-width="1.4" />
<line x1="101.13" y1="352.2" x2="109.33" y2="352.2" stroke="#000000" stroke-width="1.4" />
<line x1="101.13" y1="353.8" x2="109.33" y2="353.8" stroke="#000000" stroke-width="1.4" />
<rect x="103.13" y="350.9" width="4.2" height="4.2" fill="#000000"/>
<line x1="120.44" y1="345.6" x2="120.44" y2="348.4" stroke="#000000" stroke-width="1.4" />
<line x1="116.34" y1="345.6" x2="124.54" y2="345.6" stroke="#000000" stroke-width="1.4" />
<line x1="116.34" y1="348.4" x2="124.54" y2="348.4" stroke="#000000" stroke-width="1.4" />
<rect x="118.34" y="344.9" width="4.2" height="4.2" fill="#000000"/>
<line x1="135.65" y1="339.5" x2="135.65" y2="343.3" stroke="#000000" stroke-width="1.4" />
<line x1="131.55" y1="339.5" x2="139.75" y2="339.5" stroke="#000000" stroke-width="1.4" />
<line x1="131.55" y1="343.3" x2="139.75" y2="343.3" stroke="#000000" stroke-width="1.4" />
<rect x="133.55" y="339.3" width="4.2" height="4.2" fill="#000000"/>
<line x1="150.87" y1="332.7" x2="150.87" y2="337.9" stroke="#000000" stroke-width="1.4" />
<line x1="146.77" y1="332.7" x2="154.97" y2="332.7" stroke="#000000" stroke-width="1.4" />
<line x1="146.77" y1="337.9" x2="154.97" y2="337.9" stroke="#000000" stroke-width="1.4" />
<rect x="148.77" y="333.2" width="4.2" height="4.2" fill="#000000"/>
<line x1="166.08" y1="326.1" x2="166.08" y2="333.3" stroke="#000000" stroke-width="1.4" />
<line x1="161.98" y1="326.1" x2="170.18" y2="326.1" stroke="#000000" stroke-width="1.4" />
<line x1="161.98" y1="333.3" x2="170.18" y2="333.3" stroke="#000000" stroke-width="1.4" />
<rect x="163.98" y="327.6" width="4.2" height="4.2" fill="#000000"/>
<line x1="181.29" y1="319" x2="181.29" y2="327.8" stroke="#000000" stroke-width="1.4" />
<line x1="177.19" y1="319" x2="185.39" y2="319" stroke="#000000" stroke-width="1.4" />
<line x1="177.19" y1="327.8" x2="185.39" y2="327.8" stroke="#000000" stroke-width="1.4" />
<rect x="179.19" y="321.3" width="4.2" height="4.2" fill="#000000"/>
<line x1="196.51" y1="310.5" x2="196.51" y2="323.1" stroke="#000000" stroke-width="1.4" />
<line x1="192.41" y1="310.5" x2="200.61" y2="310.5" stroke="#000000" stroke-width="1.4" />
<line x1="192.41" y1="323.1" x2="200.61" y2="323.1" stroke="#000000" stroke-width="1.4" />
<rect x="194.41" y="314.7" width="4.2" height="4.2" fill="#000000"/>
<line x1="211.72" y1="301.3" x2="211.72" y2="317.9" stroke="#000000" stroke-width="1.4" />
<line x1="207.62" y1="301.3" x2="215.82" y2="301.3" stroke="#000000" stroke-width="1.4" />
<line x1="207.62" y1="317.9" x2="215.82" y2="317.9" stroke="#000000" stroke-width="1.4" />
<rect x="209.62" y="307.5" width="4.2" height="4.2" fill="#000000"/>
<line x1="226.93" y1="291.8" x2="226.93" y2="312.2" stroke="#000000" stroke-width="1.4" />
<line x1="222.83" y1="291.8" x2="231.03" y2="291.8" stroke="#000000" stroke-width="1.4" />
<line x1="222.83" y1="312.2" x2="231.03" y2="312.2" stroke="#000000" stroke-width="1.4" />
<rect x="224.83" y="299.9" width="4.2" height="4.2" fill="#000000"/>
<line x1="242.15" y1="279.6" x2="242.15" y2="309.6" stroke="#000000" stroke-width="1.4" />
<line x1="238.05" y1="279.6" x2="246.25" y2="279.6" stroke="#000000" stroke-width="1.4" />
<line x1="238.05" y1="309.6" x2="246.25" y2="309.6" stroke="#000000" stroke-width="1.4" />
<rect x="240.05" y="292.5" width="4.2" height="4.2" fill="#000000"/>
<line x1="257.36" y1="265.7" x2="257.36" y2="306.5" stroke="#000000" stroke-width="1.4" />
<line x1="253.26" y1="265.7" x2="261.46" y2="265.7" stroke="#000000" stroke-width="1.4" />
<line x1="253.26" y1="306.5" x2="261.46" y2="306.5" stroke="#000000" stroke-width="1.4" />
<rect x="255.26" y="284" width="4.2" height="4.2" fill="#000000"/>
<line x1="272.57" y1="250.3" x2="272.57" y2="303.3" stroke="#000000" stroke-width="1.4" />
<line x1="268.47" y1="250.3" x2="276.67" y2="250.3" stroke="#000000" stroke-width="1.4" />
<line x1="268.47" y1="303.3" x2="276.67" y2="303.3" stroke="#000000" stroke-width="1.4" />
<rect x="270.47" y="274.7" width="4.2" height="4.2" fill="#000000"/>
<line x1="287.79" y1="231.5" x2="287.79" y2="299.5" stroke="#000000" stroke-width="1.4" />
<line x1="283.69" y1="231.5" x2="291.89" y2="231.5" stroke="#000000" stroke-width="1.4" />
<line x1="283.69" y1="299.5" x2="291.89" y2="299.5" stroke="#000000" stroke-width="1.4" />
<rect x="285.69" y="263.4" width="4.2" height="4.2" fill="#000000"/>
<line x1="303" y1="221" x2="303" y2="297.8" stroke="#000000" stroke-width="1.4" />
<line x1="298.9" y1="297.8" x2="307.1" y2="297.8" stroke="#000000" stroke-width="1.4" />
<rect x="300.9" y="252.7" width="4.2" height="4.2" fill="#000000"/>
<polyline points="120.44,355 135.65,348.2 150.87,341.8 166.08,336.1 181.29,330.9 196.51,325.2 211.72,319.5 226.93,314.5 242.15,309.5 257.36,304.6 272.57,298.6 287.79,292.8 303,286.6" fill="none" stroke="#ff0000" stroke-width="1.6"/>
<line x1="120.44" y1="353.4" x2="120.44" y2="356.6" stroke="#ff0000" stroke-width="1.4" />
<line x1="116.34" y1="353.4" x2="124.54" y2="353.4" stroke="#ff0000" stroke-width="1.4" />
<line x1="116.34" y1="356.6" x2="124.54" y2="356.6" stroke="#ff0000" stroke-width="1.4" />
<circle cx="120.44" cy="355" r="2.1" fill="#ff0000"/>
<line x1="135.65" y1="346" x2="135.65" y2="350.4" stroke="#ff0000" stroke-width="1.4" />
<line x1="131.55" y1="346" x2="139.75" y2="346" stroke="#ff0000" stroke-width="1.4" />
<line x1="131.55" y1="350.4" x2="139.75" y2="350.4" stroke="#ff0000" stroke-width="1.4" />
<circle cx="135.65" cy="348.2" r="2.1" fill="#ff0000"/>
<line x1="150.87" y1="338.8" x2="150.87" y2="344.8" stroke="#ff0000" stroke-width="1.4" />
<line x1="146.77" y1="338.8" x2="154.97" y2="338.8" stroke="#ff0000" stroke-width="1.4" />
<line x1="146.77" y1="344.8" x2="154.97" y2="344.8" stroke="#ff0000" stroke-width="1.4" />
<circle cx="150.87" cy="341.8" r="2.1" fill="#ff0000"/>
<line x1="166.08" y1="332.4" x2="166.08" y2="339.8" stroke="#ff0000" stroke-width="1.4" />
<line x1="161.98" y1="332.4" x2="170.18" y2="332.4" stroke="#ff0000" stroke-width="1.4" />
<line x1="161.98" y1="339.8" x2="170.18" y2="339.8" stroke="#ff0000" stroke-width="1.4" />
<circle cx="166.08" cy="336.1" r="2.1" fill="#ff0000"/>
<line x1="181.29" y1="326.2" x2="181.29" y2="335.6" stroke="#ff0000" stroke-width="1.4" />
<line x1="177.19" y1="326.2" x2="185.39" y2="326.2" stroke="#ff0000" stroke-width="1.4" />
<line x1="177.19" y1="335.6" x2="185.39" y2="335.6" stroke="#ff0000" stroke-width="1.4" />
<circle cx="181.29" cy="330.9" r="2.1" fill="#ff0000"/>
<line x1="196.51" y1="318.7" x2="196.51" y2="331.7" stroke="#ff0000" stroke-width="1.4" />
<line x1="192.41" y1="318.7" x2="200.61" y2="318.7" stroke="#ff0000" stroke-width="1.4" />
<line x1="192.41" y1="331.7" x2="200.61" y2="331.7" stroke="#ff0000" stroke-width="1.4" />
<circle cx="196.51" cy="325.2" r="2.1" fill="#ff0000"/>
<line x1="211.72" y1="311" x2="211.72" y2="328" stroke="#ff0000" stroke-width="1.4" />
<line x1="207.62" y1="311" x2="215.82" y2="311" stroke="#ff0000" stroke-width="1.4" />
<line x1="207.62" y1="328" x2="215.82" y2="328" stroke="#ff0000" stroke-width="1.4" />
<circle cx="211.72" cy="319.5" r="2.1" fill="#ff0000"/>
<line x1="226.93" y1="303.7" x2="226.93" y2="325.3" stroke="#ff0000" stroke-width="1.4" />
<line x1="222.83" y1="303.7" x2="231.03" y2="303.7" stroke="#ff0000" stroke-width="1.4" />
<line x1="222.83" y1="325.3" x2="231.03" y2="325.3" stroke="#ff0000" stroke-width="1.4" />
<circle cx="226.93" cy="314.5" r="2.1" fill="#ff0000"/>
<line x1="242.15" y1="295.5" x2="242.15" y2="323.5" stroke="#ff0000" stroke-width="1.4" />
<line x1="238.05" y1="295.5" x2="246.25" y2="295.5" stroke="#ff0000" stroke-width="1.4" />
<line x1="238.05" y1="323.5" x2="246.25" y2="323.5" stroke="#ff0000" stroke-width="1.4" />
<circle cx="242.15" cy="309.5" r="2.1" fill="#ff0000"/>
<line x1="257.36" y1="287.6" x2="257.36" y2="321.6" stroke="#ff0000" stroke-width="1.4" />
<line x1="253.26" y1="287.6" x2="261.46" y2="287.6" stroke="#ff0000" stroke-width="1.4" />
<line x1="253.26" y1="321.6" x2="261.46" y2="321.6" stroke="#ff0000" stroke-width="1.4" />
<circle cx="257.36" cy="304.6" r="2.1" fill="#ff0000"/>
<line x1="272.57" y1="276.6" x2="272.57" y2="320.6" stroke="#ff0000" stroke-width="1.4" />
<line x1="268.47" y1="276.6" x2="276.67" y2="276.6" stroke="#ff0000" stroke-width="1.4" />
<line x1="268.47" y1="320.6" x2="276.67" y2="320.6" stroke="#ff0000" stroke-width="1.4" />
<circle cx="272.57" cy="298.6" r="2.1" fill="#ff0000"/>
<line x1="287.79" y1="264.4" x2="287.79" y2="321.2" stroke="#ff0000" stroke-width="1.4" />
<line x1="283.69" y1="264.4" x2="291.89" y2="264.4" stroke="#ff0000" stroke-width="1.4" />
<line x1="283.69" y1="321.2" x2="291.89" y2="321.2" stroke="#ff0000" stroke-width="1.4" />
<circle cx="287.79" cy="292.8" r="2.1" fill="#ff0000"/>
<line x1="303" y1="249.8" x2="303" y2="323.4" stroke="#ff0000" stroke-width="1.4" />
<line x1="298.9" y1="249.8" x2="307.1" y2="249.8" stroke="#ff0000" stroke-width="1.4" />
<line x1="298.9" y1="323.4" x2="307.1" y2="323.4" stroke="#ff0000" stroke-width="1.4" />
<circle cx="303" cy="286.6" r="2.1" fill="#ff0000"/>
</g>
<rect x="74.8" y="221" width="228.2" height="158.6" fill="none" stroke="#000" stroke-width="1.5"/>
<rect x="300.9" y="252.7" width="4.2" height="4.2" fill="#000000"/>
<circle cx="303" cy="286.6" r="2.1" fill="#ff0000"/>
<line x1="172.3" y1="252" x2="193.2" y2="252" stroke="#000000" stroke-width="1.3" />
<line x1="172.3" y1="249.1" x2="172.3" y2="254.9" stroke="#000000" stroke-width="1.3" />
<line x1="193.2" y1="249.1" x2="193.2" y2="254.9" stroke="#000000" stroke-width="1.3" />
<rect x="180.6" y="249.9" width="4.2" height="4.2" fill="#000000"/>
<line x1="172.3" y1="265.4" x2="193.2" y2="265.4" stroke="#ff0000" stroke-width="1.3" />
<line x1="172.3" y1="262.5" x2="172.3" y2="268.3" stroke="#ff0000" stroke-width="1.3" />
<line x1="193.2" y1="262.5" x2="193.2" y2="268.3" stroke="#ff0000" stroke-width="1.3" />
<circle cx="182.7" cy="265.4" r="2.1" fill="#ff0000"/>
<text x="112.6" y="255.3" text-anchor="start" font-size="14.0" font-style="italic" textLength="9" lengthAdjust="spacingAndGlyphs" fill="#000000" >Z</text>
<text x="126.5" y="255.9" text-anchor="start" font-size="14.0" textLength="11" lengthAdjust="spacingAndGlyphs" fill="#000000" >=</text>
<text x="142.2" y="255.3" text-anchor="start" font-size="13.8" textLength="25.87" lengthAdjust="spacingAndGlyphs" fill="#000000" >0.05</text>
<text x="112.6" y="268.6" text-anchor="start" font-size="14.0" font-style="italic" textLength="9" lengthAdjust="spacingAndGlyphs" fill="#000000" >Z</text>
<text x="126.5" y="269.2" text-anchor="start" font-size="14.0" textLength="11" lengthAdjust="spacingAndGlyphs" fill="#000000" >=</text>
<text x="142.2" y="268.6" text-anchor="start" font-size="13.8" textLength="18.59" lengthAdjust="spacingAndGlyphs" fill="#000000" >1.0</text>
<text x="58.93" y="224.6" text-anchor="start" font-size="13.8" textLength="7.28" lengthAdjust="spacingAndGlyphs" fill="#000000" >1</text>
<text x="47.61" y="256.32" text-anchor="start" font-size="13.8" textLength="18.59" lengthAdjust="spacingAndGlyphs" fill="#000000" >0.8</text>
<text x="47.61" y="288.04" text-anchor="start" font-size="13.8" textLength="18.59" lengthAdjust="spacingAndGlyphs" fill="#000000" >0.6</text>
<text x="47.61" y="319.76" text-anchor="start" font-size="13.8" textLength="18.59" lengthAdjust="spacingAndGlyphs" fill="#000000" >0.4</text>
<text x="47.61" y="351.48" text-anchor="start" font-size="13.8" textLength="18.59" lengthAdjust="spacingAndGlyphs" fill="#000000" >0.2</text>
<text x="58.93" y="383.2" text-anchor="start" font-size="13.8" textLength="7.28" lengthAdjust="spacingAndGlyphs" fill="#000000" >0</text>
<text x="61.87" y="396.7" text-anchor="start" font-size="13.8" textLength="25.87" lengthAdjust="spacingAndGlyphs" fill="#000000" >0.25</text>
<text x="141.57" y="396.7" text-anchor="start" font-size="13.8" textLength="18.59" lengthAdjust="spacingAndGlyphs" fill="#000000" >0.3</text>
<text x="214" y="396.7" text-anchor="start" font-size="13.8" textLength="25.87" lengthAdjust="spacingAndGlyphs" fill="#000000" >0.35</text>
<text x="293.7" y="396.7" text-anchor="start" font-size="13.8" textLength="18.59" lengthAdjust="spacingAndGlyphs" fill="#000000" >0.4</text>
<text x="189" y="414" text-anchor="middle" font-size="14.5" font-style="italic" fill="#000000" >η</text>
<text x="18.5" y="406.8" text-anchor="start" font-size="15" textLength="17.6" lengthAdjust="spacingAndGlyphs" fill="#000000" >(b)</text>
<text transform="translate(38.0,321) rotate(-90)" font-size="14.0" fill="#222" textLength="41" lengthAdjust="spacingAndGlyphs"><tspan font-style="italic">β K</tspan><tspan font-size="9.5" dy="2.4">2</tspan><tspan dy="-2.4" font-style="italic">D</tspan></text>
<line x1="433.49" y1="357.5" x2="433.49" y2="351.9" stroke="#000000" stroke-width="1.55" />
<line x1="433.49" y1="32.2" x2="433.49" y2="37.8" stroke="#000000" stroke-width="1.55" />
<line x1="473.06" y1="357.5" x2="473.06" y2="354.7" stroke="#000000" stroke-width="1.55" />
<line x1="473.06" y1="32.2" x2="473.06" y2="35" stroke="#000000" stroke-width="1.55" />
<line x1="512.64" y1="357.5" x2="512.64" y2="351.9" stroke="#000000" stroke-width="1.55" />
<line x1="512.64" y1="32.2" x2="512.64" y2="37.8" stroke="#000000" stroke-width="1.55" />
<line x1="552.21" y1="357.5" x2="552.21" y2="354.7" stroke="#000000" stroke-width="1.55" />
<line x1="552.21" y1="32.2" x2="552.21" y2="35" stroke="#000000" stroke-width="1.55" />
<line x1="591.79" y1="357.5" x2="591.79" y2="351.9" stroke="#000000" stroke-width="1.55" />
<line x1="591.79" y1="32.2" x2="591.79" y2="37.8" stroke="#000000" stroke-width="1.55" />
<line x1="631.36" y1="357.5" x2="631.36" y2="354.7" stroke="#000000" stroke-width="1.55" />
<line x1="631.36" y1="32.2" x2="631.36" y2="35" stroke="#000000" stroke-width="1.55" />
<line x1="670.93" y1="357.5" x2="670.93" y2="351.9" stroke="#000000" stroke-width="1.55" />
<line x1="670.93" y1="32.2" x2="670.93" y2="37.8" stroke="#000000" stroke-width="1.55" />
<line x1="710.51" y1="357.5" x2="710.51" y2="354.7" stroke="#000000" stroke-width="1.55" />
<line x1="710.51" y1="32.2" x2="710.51" y2="35" stroke="#000000" stroke-width="1.55" />
<line x1="750.08" y1="357.5" x2="750.08" y2="351.9" stroke="#000000" stroke-width="1.55" />
<line x1="750.08" y1="32.2" x2="750.08" y2="37.8" stroke="#000000" stroke-width="1.55" />
<line x1="789.66" y1="357.5" x2="789.66" y2="354.7" stroke="#000000" stroke-width="1.55" />
<line x1="789.66" y1="32.2" x2="789.66" y2="35" stroke="#000000" stroke-width="1.55" />
<line x1="386" y1="357.5" x2="391.6" y2="357.5" stroke="#000000" stroke-width="1.55" />
<line x1="813.4" y1="357.5" x2="807.8" y2="357.5" stroke="#000000" stroke-width="1.55" />
<line x1="386" y1="332.48" x2="388.8" y2="332.48" stroke="#000000" stroke-width="1.55" />
<line x1="813.4" y1="332.48" x2="810.6" y2="332.48" stroke="#000000" stroke-width="1.55" />
<line x1="386" y1="307.45" x2="391.6" y2="307.45" stroke="#000000" stroke-width="1.55" />
<line x1="813.4" y1="307.45" x2="807.8" y2="307.45" stroke="#000000" stroke-width="1.55" />
<line x1="386" y1="282.43" x2="388.8" y2="282.43" stroke="#000000" stroke-width="1.55" />
<line x1="813.4" y1="282.43" x2="810.6" y2="282.43" stroke="#000000" stroke-width="1.55" />
<line x1="386" y1="257.41" x2="391.6" y2="257.41" stroke="#000000" stroke-width="1.55" />
<line x1="813.4" y1="257.41" x2="807.8" y2="257.41" stroke="#000000" stroke-width="1.55" />
<line x1="386" y1="232.38" x2="388.8" y2="232.38" stroke="#000000" stroke-width="1.55" />
<line x1="813.4" y1="232.38" x2="810.6" y2="232.38" stroke="#000000" stroke-width="1.55" />
<line x1="386" y1="207.36" x2="391.6" y2="207.36" stroke="#000000" stroke-width="1.55" />
<line x1="813.4" y1="207.36" x2="807.8" y2="207.36" stroke="#000000" stroke-width="1.55" />
<line x1="386" y1="182.34" x2="388.8" y2="182.34" stroke="#000000" stroke-width="1.55" />
<line x1="813.4" y1="182.34" x2="810.6" y2="182.34" stroke="#000000" stroke-width="1.55" />
<line x1="386" y1="157.32" x2="391.6" y2="157.32" stroke="#000000" stroke-width="1.55" />
<line x1="813.4" y1="157.32" x2="807.8" y2="157.32" stroke="#000000" stroke-width="1.55" />
<line x1="386" y1="132.29" x2="388.8" y2="132.29" stroke="#000000" stroke-width="1.55" />
<line x1="813.4" y1="132.29" x2="810.6" y2="132.29" stroke="#000000" stroke-width="1.55" />
<line x1="386" y1="107.27" x2="391.6" y2="107.27" stroke="#000000" stroke-width="1.55" />
<line x1="813.4" y1="107.27" x2="807.8" y2="107.27" stroke="#000000" stroke-width="1.55" />
<line x1="386" y1="82.25" x2="388.8" y2="82.25" stroke="#000000" stroke-width="1.55" />
<line x1="813.4" y1="82.25" x2="810.6" y2="82.25" stroke="#000000" stroke-width="1.55" />
<line x1="386" y1="57.22" x2="391.6" y2="57.22" stroke="#000000" stroke-width="1.55" />
<line x1="813.4" y1="57.22" x2="807.8" y2="57.22" stroke="#000000" stroke-width="1.55" />
<clipPath id="cc"><rect x="386.0" y="32.2" width="427.4" height="325.3"/></clipPath>
<g clip-path="url(#cc)">
<path d="M425.5,303.5 C426.85,300.33 431.02,290 433.6,284.5 C436.18,279 438.77,274.58 441,270.5 C443.23,266.42 445.17,263.42 447,260 C448.83,256.58 449.83,254.92 452,250 C454.17,245.08 457.67,236.5 460,230.5 C462.33,224.5 464.33,218.75 466,214 C467.67,209.25 468.5,206.83 470,202 C471.5,197.17 473.25,191.67 475,185 C476.75,178.33 478.83,169.83 480.5,162 C482.17,154.17 483.58,145.33 485,138 C486.42,130.67 487.67,124.67 489,118 C490.33,111.33 491.73,105.17 493,98 C494.27,90.83 496,78.83 496.6,75" fill="none" stroke="#9400d3" stroke-width="1.8" stroke-linecap="butt"/>
<path d="M425.5,303.5 C427.92,298.42 435.25,281.92 440,273 C444.75,264.08 448.33,258.83 454,250 C459.67,241.17 467.95,228.33 474,220 C480.05,211.67 486.57,204.83 490.3,200 C494.03,195.17 495.38,192.5 496.4,191" fill="none" stroke="#009e73" stroke-width="1.8" stroke-linecap="butt"/>
<path d="M425.5,303.5 C427.42,299.92 431.75,290.92 437,282 C442.25,273.08 450.83,260 457,250 C463.17,240 469.5,230.67 474,222 C478.5,213.33 481.17,205.33 484,198 C486.83,190.67 488.9,184.17 491,178 C493.1,171.83 495.67,163.83 496.6,161" fill="none" stroke="#56b4e9" stroke-width="1.8" stroke-linecap="butt"/>
<path d="M425.6,303.8 C426.87,300.9 430.42,291.88 433.2,286.4 C435.98,280.92 439.27,275.47 442.3,270.9 C445.33,266.33 448.37,262.18 451.4,259 C454.43,255.82 457.78,253.67 460.5,251.8 C463.22,249.93 465.68,248.7 467.7,247.8 C469.72,246.9 471.78,246.63 472.6,246.4" fill="none" stroke="#e69f00" stroke-width="1.8" stroke-linecap="butt"/>
<path d="M437.7,287.3 C439.58,284.33 445.28,275.05 449,269.5 C452.72,263.95 457.5,257.58 460,254 C462.5,250.42 460.67,252.67 464,248 C467.33,243.33 474,234 480,226 C486,218 493.33,208.5 500,200 C506.67,191.5 514.77,181.13 520,175 C525.23,168.87 529.5,165.17 531.4,163.2" fill="none" stroke="#000" stroke-width="1.2" stroke-linecap="butt" stroke-dasharray="1.5 2.85"/>
<path d="M419,307 C420.83,304 425.67,295.17 430,289 C434.33,282.83 439,276.75 445,270 C451,263.25 459,256.42 466,248.5 C473,240.58 480,230.75 487,222.5 C494,214.25 502.5,205.08 508,199 C513.5,192.92 516.33,189.83 520,186 C523.67,182.17 528.33,177.67 530,176" fill="none" stroke="#000" stroke-width="1.1" stroke-linecap="butt" stroke-dasharray="4.0 4.6"/>
<path d="M473,327 C474.17,324.83 477.17,318.83 480,314 C482.83,309.17 486.67,302.17 490,298 C493.33,293.83 496.33,292.33 500,289 C503.67,285.67 508,281.5 512,278 C516,274.5 520,271 524,268 C528,265 532.7,262 536,260 C539.3,258 542.5,256.67 543.8,256" fill="none" stroke="#9400d3" stroke-width="1.8" stroke-linecap="butt"/>
<path d="M481,313.4 C482.5,311.33 486.83,305.23 490,301 C493.17,296.77 495.67,293.5 500,288 C504.33,282.5 510.5,274.33 516,268 C521.5,261.67 527,256.07 533,250 C539,243.93 548.83,234.67 552,231.6" fill="none" stroke="#009e73" stroke-width="1.8" stroke-linecap="butt"/>
<path d="M481,326 C482.17,323.67 485.5,316.33 488,312 C490.5,307.67 492.67,304.5 496,300 C499.33,295.5 504,289.67 508,285 C512,280.33 516,276 520,272 C524,268 527.83,264.67 532,261 C536.17,257.33 541.67,252.83 545,250 C548.33,247.17 550.83,245 552,244" fill="none" stroke="#56b4e9" stroke-width="1.8" stroke-linecap="butt"/>
<path d="M489,306 C490.17,303.33 493.5,295.33 496,290 C498.5,284.67 500.67,280.67 504,274 C507.33,267.33 511.67,258.33 516,250 C520.33,241.67 525.37,232.67 530,224 C534.63,215.33 541.5,202.33 543.8,198" fill="none" stroke="#e69f00" stroke-width="1.8" stroke-linecap="butt"/>
<path d="M481,313 C482.17,308.83 485.83,295.5 488,288 C490.17,280.5 492,274.33 494,268 C496,261.67 497,258.33 500,250 C503,241.67 508.33,228.67 512,218 C515.67,207.33 519.33,194.83 522,186 C524.67,177.17 526,172.67 528,165 C530,157.33 532.08,147.83 534,140 C535.92,132.17 537.83,125.07 539.5,118 C541.17,110.93 543.25,101 544,97.6" fill="none" stroke="#f0e442" stroke-width="1.8" stroke-linecap="butt"/>
<path d="M473,298.4 C475.33,290.33 482.5,265.23 487,250 C491.5,234.77 496.58,217.83 500,207 C503.42,196.17 504.9,192.67 507.5,185 C510.1,177.33 513.35,167.83 515.6,161 C517.85,154.17 518.77,151.17 521,144 C523.23,136.83 526.7,125.67 529,118 C531.3,110.33 532.3,107.73 534.8,98 C537.3,88.27 542.47,66 544,59.6" fill="none" stroke="#0072b2" stroke-width="1.8" stroke-linecap="butt"/>
<path d="M520,288 C523.33,285 534,274.67 540,270 C546,265.33 551.67,262.67 556,260 C560.33,257.33 558.67,258.83 566,254 C573.33,249.17 583.33,242 600,231 C616.67,220 647.57,199.5 666,188 C684.43,176.5 703.17,166.33 710.6,162" fill="none" stroke="#000" stroke-width="1.2" stroke-linecap="butt" stroke-dasharray="1.5 2.85"/>
<path d="M481.8,307.6 C485.5,304.5 496.3,294.27 504,289 C511.7,283.73 521.67,279.5 528,276 C534.33,272.5 535.67,271.33 542,268 C548.33,264.67 556.33,261.33 566,256 C575.67,250.67 583.33,245.83 600,236 C616.67,226.17 648,207.27 666,197 C684,186.73 701,178.17 708,174.4" fill="none" stroke="#000" stroke-width="1.1" stroke-linecap="butt" stroke-dasharray="4.0 4.6"/>
<path d="M560,327 C561,325.33 563.83,320 566,317 C568.17,314 570.67,311.5 573,309 C575.33,306.5 575.5,306.67 580,302 C584.5,297.33 593.33,287.83 600,281 C606.67,274.17 614.73,266.4 620,261 C625.27,255.6 629.67,250.67 631.6,248.6" fill="none" stroke="#9400d3" stroke-width="1.8" stroke-linecap="butt"/>
<path d="M560,334 C560.67,332.5 562.67,327.67 564,325 C565.33,322.33 565.33,321.5 568,318 C570.67,314.5 574.67,310 580,304 C585.33,298 593.33,289 600,282 C606.67,275 614.87,267.2 620,262 C625.13,256.8 629,252.67 630.8,250.8" fill="none" stroke="#009e73" stroke-width="1.8" stroke-linecap="butt"/>
<path d="M576,318.4 C578,315.83 584,307.73 588,303 C592,298.27 594.67,295.5 600,290 C605.33,284.5 613,276.67 620,270 C627,263.33 637.5,254.27 642,250 C646.5,245.73 646.17,245.33 647,244.4" fill="none" stroke="#56b4e9" stroke-width="1.8" stroke-linecap="butt"/>
<path d="M584,325 C585.33,321.83 588.67,312.5 592,306 C595.33,299.5 600,292.33 604,286 C608,279.67 612.17,274 616,268 C619.83,262 623.67,256.33 627,250 C630.33,243.67 631.33,240.43 636,230 C640.67,219.57 651.83,194.5 655,187.4" fill="none" stroke="#e69f00" stroke-width="1.8" stroke-linecap="butt"/>
<path d="M599.6,316.4 C601,313 604.6,303.4 608,296 C611.4,288.6 616.33,279.67 620,272 C623.67,264.33 626.67,257 630,250 C633.33,243 634.73,241.67 640,230 C645.27,218.33 656.43,192.27 661.6,180 C666.77,167.73 669.43,160.33 671,156.4" fill="none" stroke="#f0e442" stroke-width="1.8" stroke-linecap="butt"/>
<polyline points="631.2,325 639.1,208 647,161 655,113 663,65.6" fill="none" stroke="#0072b2" stroke-width="1.8" stroke-linejoin="round"/>
<path d="M686.5,288 C689.75,286.7 699.75,282.7 706,280.2 C712.25,277.7 713.33,277.12 724,273 C734.67,268.88 755.1,261 770,255.5 C784.9,250 806.17,242.58 813.4,240" fill="none" stroke="#000" stroke-width="1.2" stroke-linecap="butt" stroke-dasharray="1.5 2.85"/>
<path d="M613,306.6 C616.83,305.03 628.17,300.22 636,297.2 C643.83,294.18 654.67,290.43 660,288.5 C665.33,286.57 660.33,287.85 668,285.6 C675.67,283.35 698.33,277.1 706,275 C713.67,272.9 705,275.58 714,273 C723,270.42 743.43,264.27 760,259.5 C776.57,254.73 804.5,246.92 813.4,244.4" fill="none" stroke="#000" stroke-width="1.1" stroke-linecap="butt" stroke-dasharray="4.0 4.6"/>
<path d="M687,313.6 C687.5,312.67 685.5,314.93 690,308 C694.5,301.07 704.67,286.67 714,272 C723.33,257.33 740,229.83 746,220 C752,210.17 749.33,214.17 750,213" fill="none" stroke="#9400d3" stroke-width="1.8" stroke-linecap="butt"/>
<path d="M694.6,315.6 C695.33,314.33 694.43,315.6 699,308 C703.57,300.4 713.5,283.77 722,270 C730.5,256.23 745.33,232.83 750,225.4" fill="none" stroke="#009e73" stroke-width="1.8" stroke-linecap="butt"/>
</g>
<rect x="386" y="32.2" width="427.4" height="325.3" fill="none" stroke="#000" stroke-width="1.5"/>
<text x="405.2" y="79.4" text-anchor="start" font-size="14.0" font-style="italic" textLength="8.6" lengthAdjust="spacingAndGlyphs" fill="#000000" >L</text>
<text x="415.4" y="79.4" text-anchor="start" font-size="14.0" font-style="italic" textLength="5.4" lengthAdjust="spacingAndGlyphs" fill="#000000" >/</text>
<text x="422.4" y="79.4" text-anchor="start" font-size="14.0" font-style="italic" textLength="11.4" lengthAdjust="spacingAndGlyphs" fill="#000000" >D</text>
<text x="438" y="80" text-anchor="start" font-size="14.0" textLength="11" lengthAdjust="spacingAndGlyphs" fill="#000000" >=</text>
<text x="453.6" y="79.4" text-anchor="start" font-size="13.8" textLength="14.55" lengthAdjust="spacingAndGlyphs" fill="#000000" >40</text>
<line x1="404.8" y1="92.8" x2="412.8" y2="92.8" stroke="#9400d3" stroke-width="1.8" />
<text x="417.2" y="97.1" text-anchor="start" font-size="14.0" font-style="italic" textLength="9" lengthAdjust="spacingAndGlyphs" fill="#000000" >Z</text>
<text x="431.1" y="97.7" text-anchor="start" font-size="14.0" textLength="11" lengthAdjust="spacingAndGlyphs" fill="#000000" >=</text>
<text x="446.8" y="97.1" text-anchor="start" font-size="13.8" textLength="14.55" lengthAdjust="spacingAndGlyphs" fill="#000000" >10</text>
<text x="461.55" y="91.9" text-anchor="start" font-size="10" textLength="10.4" lengthAdjust="spacingAndGlyphs" fill="#000000" >−3</text>
<line x1="404.8" y1="104.7" x2="412.8" y2="104.7" stroke="#009e73" stroke-width="1.8" />
<text x="417.2" y="109" text-anchor="start" font-size="14.0" font-style="italic" textLength="9" lengthAdjust="spacingAndGlyphs" fill="#000000" >Z</text>
<text x="431.1" y="109.6" text-anchor="start" font-size="14.0" textLength="11" lengthAdjust="spacingAndGlyphs" fill="#000000" >=</text>
<text x="446.8" y="109" text-anchor="start" font-size="13.8" textLength="25.87" lengthAdjust="spacingAndGlyphs" fill="#000000" >0.15</text>
<line x1="404.8" y1="116.6" x2="412.8" y2="116.6" stroke="#56b4e9" stroke-width="1.8" />
<text x="417.2" y="120.9" text-anchor="start" font-size="14.0" font-style="italic" textLength="9" lengthAdjust="spacingAndGlyphs" fill="#000000" >Z</text>
<text x="431.1" y="121.5" text-anchor="start" font-size="14.0" textLength="11" lengthAdjust="spacingAndGlyphs" fill="#000000" >=</text>
<text x="446.8" y="120.9" text-anchor="start" font-size="13.8" textLength="25.87" lengthAdjust="spacingAndGlyphs" fill="#000000" >0.30</text>
<line x1="404.8" y1="128.5" x2="412.8" y2="128.5" stroke="#e69f00" stroke-width="1.8" />
<text x="417.2" y="132.8" text-anchor="start" font-size="14.0" font-style="italic" textLength="9" lengthAdjust="spacingAndGlyphs" fill="#000000" >Z</text>
<text x="431.1" y="133.4" text-anchor="start" font-size="14.0" textLength="11" lengthAdjust="spacingAndGlyphs" fill="#000000" >=</text>
<text x="446.8" y="132.8" text-anchor="start" font-size="13.8" textLength="25.87" lengthAdjust="spacingAndGlyphs" fill="#000000" >0.45</text>
<text x="553.6" y="92.4" text-anchor="start" font-size="14.0" font-style="italic" textLength="8.6" lengthAdjust="spacingAndGlyphs" fill="#000000" >L</text>
<text x="563.8" y="92.4" text-anchor="start" font-size="14.0" font-style="italic" textLength="5.4" lengthAdjust="spacingAndGlyphs" fill="#000000" >/</text>
<text x="570.8" y="92.4" text-anchor="start" font-size="14.0" font-style="italic" textLength="11.4" lengthAdjust="spacingAndGlyphs" fill="#000000" >D</text>
<text x="586.4" y="93" text-anchor="start" font-size="14.0" textLength="11" lengthAdjust="spacingAndGlyphs" fill="#000000" >=</text>
<text x="602" y="92.4" text-anchor="start" font-size="13.8" textLength="14.55" lengthAdjust="spacingAndGlyphs" fill="#000000" >20</text>
<line x1="555.4" y1="105.6" x2="563.4" y2="105.6" stroke="#9400d3" stroke-width="1.8" />
<text x="567.8" y="109.9" text-anchor="start" font-size="14.0" font-style="italic" textLength="9" lengthAdjust="spacingAndGlyphs" fill="#000000" >Z</text>
<text x="581.7" y="110.5" text-anchor="start" font-size="14.0" textLength="11" lengthAdjust="spacingAndGlyphs" fill="#000000" >=</text>
<text x="597.4" y="109.9" text-anchor="start" font-size="13.8" textLength="18.59" lengthAdjust="spacingAndGlyphs" fill="#000000" >0.1</text>
<line x1="555.4" y1="117.5" x2="563.4" y2="117.5" stroke="#009e73" stroke-width="1.8" />
<text x="567.8" y="121.8" text-anchor="start" font-size="14.0" font-style="italic" textLength="9" lengthAdjust="spacingAndGlyphs" fill="#000000" >Z</text>
<text x="581.7" y="122.4" text-anchor="start" font-size="14.0" textLength="11" lengthAdjust="spacingAndGlyphs" fill="#000000" >=</text>
<text x="597.4" y="121.8" text-anchor="start" font-size="13.8" textLength="18.59" lengthAdjust="spacingAndGlyphs" fill="#000000" >1.0</text>
<line x1="555.4" y1="129.4" x2="563.4" y2="129.4" stroke="#56b4e9" stroke-width="1.8" />
<text x="567.8" y="133.7" text-anchor="start" font-size="14.0" font-style="italic" textLength="9" lengthAdjust="spacingAndGlyphs" fill="#000000" >Z</text>
<text x="581.7" y="134.3" text-anchor="start" font-size="14.0" textLength="11" lengthAdjust="spacingAndGlyphs" fill="#000000" >=</text>
<text x="597.4" y="133.7" text-anchor="start" font-size="13.8" textLength="18.59" lengthAdjust="spacingAndGlyphs" fill="#000000" >2.0</text>
<line x1="555.4" y1="141.3" x2="563.4" y2="141.3" stroke="#e69f00" stroke-width="1.8" />
<text x="567.8" y="145.6" text-anchor="start" font-size="14.0" font-style="italic" textLength="9" lengthAdjust="spacingAndGlyphs" fill="#000000" >Z</text>
<text x="581.7" y="146.2" text-anchor="start" font-size="14.0" textLength="11" lengthAdjust="spacingAndGlyphs" fill="#000000" >=</text>
<text x="597.4" y="145.6" text-anchor="start" font-size="13.8" textLength="18.59" lengthAdjust="spacingAndGlyphs" fill="#000000" >3.0</text>
<line x1="555.4" y1="153.2" x2="563.4" y2="153.2" stroke="#f0e442" stroke-width="1.8" />
<text x="567.8" y="157.5" text-anchor="start" font-size="14.0" font-style="italic" textLength="9" lengthAdjust="spacingAndGlyphs" fill="#000000" >Z</text>
<text x="581.7" y="158.1" text-anchor="start" font-size="14.0" textLength="11" lengthAdjust="spacingAndGlyphs" fill="#000000" >=</text>
<text x="597.4" y="157.5" text-anchor="start" font-size="13.8" textLength="18.59" lengthAdjust="spacingAndGlyphs" fill="#000000" >4.0</text>
<line x1="555.4" y1="165.1" x2="563.4" y2="165.1" stroke="#0072b2" stroke-width="1.8" />
<text x="567.8" y="169.4" text-anchor="start" font-size="14.0" font-style="italic" textLength="9" lengthAdjust="spacingAndGlyphs" fill="#000000" >Z</text>
<text x="581.7" y="170" text-anchor="start" font-size="14.0" textLength="11" lengthAdjust="spacingAndGlyphs" fill="#000000" >=</text>
<text x="597.4" y="169.4" text-anchor="start" font-size="13.8" textLength="18.59" lengthAdjust="spacingAndGlyphs" fill="#000000" >5.0</text>
<text x="674" y="54" text-anchor="start" font-size="14.0" font-style="italic" textLength="8.6" lengthAdjust="spacingAndGlyphs" fill="#000000" >L</text>
<text x="684.2" y="54" text-anchor="start" font-size="14.0" font-style="italic" textLength="5.4" lengthAdjust="spacingAndGlyphs" fill="#000000" >/</text>
<text x="691.2" y="54" text-anchor="start" font-size="14.0" font-style="italic" textLength="11.4" lengthAdjust="spacingAndGlyphs" fill="#000000" >D</text>
<text x="706.8" y="54.6" text-anchor="start" font-size="14.0" textLength="11" lengthAdjust="spacingAndGlyphs" fill="#000000" >=</text>
<text x="722.4" y="54" text-anchor="start" font-size="13.8" textLength="14.55" lengthAdjust="spacingAndGlyphs" fill="#000000" >10</text>
<line x1="674" y1="68" x2="682" y2="68" stroke="#9400d3" stroke-width="1.8" />
<text x="686.4" y="72.3" text-anchor="start" font-size="14.0" font-style="italic" textLength="9" lengthAdjust="spacingAndGlyphs" fill="#000000" >Z</text>
<text x="700.3" y="72.9" text-anchor="start" font-size="14.0" textLength="11" lengthAdjust="spacingAndGlyphs" fill="#000000" >=</text>
<text x="716" y="72.3" text-anchor="start" font-size="13.8" textLength="25.87" lengthAdjust="spacingAndGlyphs" fill="#000000" >0.05</text>
<line x1="674" y1="79.85" x2="682" y2="79.85" stroke="#009e73" stroke-width="1.8" />
<text x="686.4" y="84.15" text-anchor="start" font-size="14.0" font-style="italic" textLength="9" lengthAdjust="spacingAndGlyphs" fill="#000000" >Z</text>
<text x="700.3" y="84.75" text-anchor="start" font-size="14.0" textLength="11" lengthAdjust="spacingAndGlyphs" fill="#000000" >=</text>
<text x="716" y="84.15" text-anchor="start" font-size="13.8" textLength="18.59" lengthAdjust="spacingAndGlyphs" fill="#000000" >0.5</text>
<line x1="674" y1="91.7" x2="682" y2="91.7" stroke="#56b4e9" stroke-width="1.8" />
<text x="686.4" y="96" text-anchor="start" font-size="14.0" font-style="italic" textLength="9" lengthAdjust="spacingAndGlyphs" fill="#000000" >Z</text>
<text x="700.3" y="96.6" text-anchor="start" font-size="14.0" textLength="11" lengthAdjust="spacingAndGlyphs" fill="#000000" >=</text>
<text x="716" y="96" text-anchor="start" font-size="13.8" textLength="18.59" lengthAdjust="spacingAndGlyphs" fill="#000000" >1.0</text>
<line x1="674" y1="103.55" x2="682" y2="103.55" stroke="#e69f00" stroke-width="1.8" />
<text x="686.4" y="107.85" text-anchor="start" font-size="14.0" font-style="italic" textLength="9" lengthAdjust="spacingAndGlyphs" fill="#000000" >Z</text>
<text x="700.3" y="108.45" text-anchor="start" font-size="14.0" textLength="11" lengthAdjust="spacingAndGlyphs" fill="#000000" >=</text>
<text x="716" y="107.85" text-anchor="start" font-size="13.8" textLength="18.59" lengthAdjust="spacingAndGlyphs" fill="#000000" >1.5</text>
<line x1="674" y1="115.4" x2="682" y2="115.4" stroke="#f0e442" stroke-width="1.8" />
<text x="686.4" y="119.7" text-anchor="start" font-size="14.0" font-style="italic" textLength="9" lengthAdjust="spacingAndGlyphs" fill="#000000" >Z</text>
<text x="700.3" y="120.3" text-anchor="start" font-size="14.0" textLength="11" lengthAdjust="spacingAndGlyphs" fill="#000000" >=</text>
<text x="716" y="119.7" text-anchor="start" font-size="13.8" textLength="18.59" lengthAdjust="spacingAndGlyphs" fill="#000000" >2.0</text>
<line x1="674" y1="127.25" x2="682" y2="127.25" stroke="#0072b2" stroke-width="1.8" />
<text x="686.4" y="131.55" text-anchor="start" font-size="14.0" font-style="italic" textLength="9" lengthAdjust="spacingAndGlyphs" fill="#000000" >Z</text>
<text x="700.3" y="132.15" text-anchor="start" font-size="14.0" textLength="11" lengthAdjust="spacingAndGlyphs" fill="#000000" >=</text>
<text x="716" y="131.55" text-anchor="start" font-size="13.8" textLength="18.59" lengthAdjust="spacingAndGlyphs" fill="#000000" >3.5</text>
<text x="734.8" y="166.8" text-anchor="start" font-size="14.0" font-style="italic" textLength="8.6" lengthAdjust="spacingAndGlyphs" fill="#000000" >L</text>
<text x="745" y="166.8" text-anchor="start" font-size="14.0" font-style="italic" textLength="5.4" lengthAdjust="spacingAndGlyphs" fill="#000000" >/</text>
<text x="752" y="166.8" text-anchor="start" font-size="14.0" font-style="italic" textLength="11.4" lengthAdjust="spacingAndGlyphs" fill="#000000" >D</text>
<text x="767.6" y="167.4" text-anchor="start" font-size="14.0" textLength="11" lengthAdjust="spacingAndGlyphs" fill="#000000" >=</text>
<text x="783.2" y="166.8" text-anchor="start" font-size="13.8" textLength="7.28" lengthAdjust="spacingAndGlyphs" fill="#000000" >5</text>
<line x1="733.4" y1="181" x2="741.4" y2="181" stroke="#9400d3" stroke-width="1.8" />
<text x="745.8" y="185.3" text-anchor="start" font-size="14.0" font-style="italic" textLength="9" lengthAdjust="spacingAndGlyphs" fill="#000000" >Z</text>
<text x="759.7" y="185.9" text-anchor="start" font-size="14.0" textLength="11" lengthAdjust="spacingAndGlyphs" fill="#000000" >=</text>
<text x="775.4" y="185.3" text-anchor="start" font-size="13.8" textLength="18.59" lengthAdjust="spacingAndGlyphs" fill="#000000" >0.3</text>
<line x1="733.4" y1="192.6" x2="741.4" y2="192.6" stroke="#009e73" stroke-width="1.8" />
<text x="745.8" y="196.9" text-anchor="start" font-size="14.0" font-style="italic" textLength="9" lengthAdjust="spacingAndGlyphs" fill="#000000" >Z</text>
<text x="759.7" y="197.5" text-anchor="start" font-size="14.0" textLength="11" lengthAdjust="spacingAndGlyphs" fill="#000000" >=</text>
<text x="775.4" y="196.9" text-anchor="start" font-size="13.8" textLength="18.59" lengthAdjust="spacingAndGlyphs" fill="#000000" >0.6</text>
<line x1="436.2" y1="344.4" x2="447" y2="344.4" stroke="#000" stroke-width="1.3" stroke-dasharray="1.5 2.85"/>
<line x1="575" y1="344.4" x2="588" y2="344.4" stroke="#000" stroke-width="1.25" stroke-dasharray="4.4 3.8"/>
<text x="453" y="347.7" text-anchor="start" font-size="14.0" font-style="italic" textLength="9" lengthAdjust="spacingAndGlyphs" fill="#000000" >Z</text>
<text x="466.6" y="348.3" text-anchor="start" font-size="14.0" textLength="11" lengthAdjust="spacingAndGlyphs" fill="#000000" >=</text>
<text x="482.4" y="347.7" text-anchor="start" font-size="13.8" textLength="7.28" lengthAdjust="spacingAndGlyphs" fill="#000000" >0</text>
<text x="495.5" y="347.7" text-anchor="start" font-size="14.0" fill="#000000" >(</text>
<text x="500.3" y="347.7" text-anchor="start" font-size="14.0" font-style="italic" textLength="11.8" lengthAdjust="spacingAndGlyphs" fill="#000000" >A</text>
<text x="516" y="348.3" text-anchor="start" font-size="14.0" textLength="11" lengthAdjust="spacingAndGlyphs" fill="#000000" >=</text>
<text x="531.5" y="347.7" text-anchor="start" font-size="13.8" textLength="7.28" lengthAdjust="spacingAndGlyphs" fill="#000000" >0</text>
<text x="539.48" y="347.7" text-anchor="start" font-size="14.0" fill="#000000" >)</text>
<text x="591" y="347.7" text-anchor="start" font-size="14.0" font-style="italic" textLength="9" lengthAdjust="spacingAndGlyphs" fill="#000000" >Z</text>
<text x="604.6" y="348.3" text-anchor="start" font-size="14.0" textLength="11" lengthAdjust="spacingAndGlyphs" fill="#000000" >=</text>
<text x="620.8" y="347.7" text-anchor="start" font-size="13.8" textLength="18.59" lengthAdjust="spacingAndGlyphs" fill="#000000" >1.2</text>
<text x="645.1" y="347.7" text-anchor="start" font-size="14.0" fill="#000000" >(</text>
<text x="649.9" y="347.7" text-anchor="start" font-size="14.0" font-style="italic" textLength="11.8" lengthAdjust="spacingAndGlyphs" fill="#000000" >A</text>
<text x="665.8" y="348.3" text-anchor="start" font-size="14.0" textLength="11" lengthAdjust="spacingAndGlyphs" fill="#000000" >=</text>
<text x="681.8" y="347.7" text-anchor="start" font-size="13.8" textLength="33.14" lengthAdjust="spacingAndGlyphs" fill="#000000" >0.051</text>
<text x="715.94" y="347.7" text-anchor="start" font-size="14.0" fill="#000000" >)</text>
<text x="370.12" y="361.3" text-anchor="start" font-size="13.8" textLength="7.28" lengthAdjust="spacingAndGlyphs" fill="#000000" >0</text>
<text x="358.81" y="311.25" text-anchor="start" font-size="13.8" textLength="18.59" lengthAdjust="spacingAndGlyphs" fill="#000000" >0.2</text>
<text x="358.81" y="261.21" text-anchor="start" font-size="13.8" textLength="18.59" lengthAdjust="spacingAndGlyphs" fill="#000000" >0.4</text>
<text x="358.81" y="211.16" text-anchor="start" font-size="13.8" textLength="18.59" lengthAdjust="spacingAndGlyphs" fill="#000000" >0.6</text>
<text x="358.81" y="161.12" text-anchor="start" font-size="13.8" textLength="18.59" lengthAdjust="spacingAndGlyphs" fill="#000000" >0.8</text>
<text x="370.12" y="111.07" text-anchor="start" font-size="13.8" textLength="7.28" lengthAdjust="spacingAndGlyphs" fill="#000000" >1</text>
<text x="358.81" y="61.02" text-anchor="start" font-size="13.8" textLength="18.59" lengthAdjust="spacingAndGlyphs" fill="#000000" >1.2</text>
<text x="423.99" y="375" text-anchor="start" font-size="13.8" textLength="18.59" lengthAdjust="spacingAndGlyphs" fill="#000000" >0.1</text>
<text x="503.14" y="375" text-anchor="start" font-size="13.8" textLength="18.59" lengthAdjust="spacingAndGlyphs" fill="#000000" >0.2</text>
<text x="582.29" y="375" text-anchor="start" font-size="13.8" textLength="18.59" lengthAdjust="spacingAndGlyphs" fill="#000000" >0.3</text>
<text x="661.44" y="375" text-anchor="start" font-size="13.8" textLength="18.59" lengthAdjust="spacingAndGlyphs" fill="#000000" >0.4</text>
<text x="740.58" y="375" text-anchor="start" font-size="13.8" textLength="18.59" lengthAdjust="spacingAndGlyphs" fill="#000000" >0.5</text>
<text x="599.6" y="391.8" text-anchor="middle" font-size="14.5" font-style="italic" fill="#000000" >η</text>
<text x="394.7" y="406.7" text-anchor="start" font-size="15" textLength="16.2" lengthAdjust="spacingAndGlyphs" fill="#000000" >(c)</text>
<text transform="translate(348.4,214.4) rotate(-90)" font-size="14.0" fill="#222" textLength="39" lengthAdjust="spacingAndGlyphs"><tspan font-style="italic">βK</tspan><tspan font-size="9.5" dy="2.4">2</tspan><tspan dy="-2.4" font-style="italic">D</tspan></text>
</svg>
</body></html>
